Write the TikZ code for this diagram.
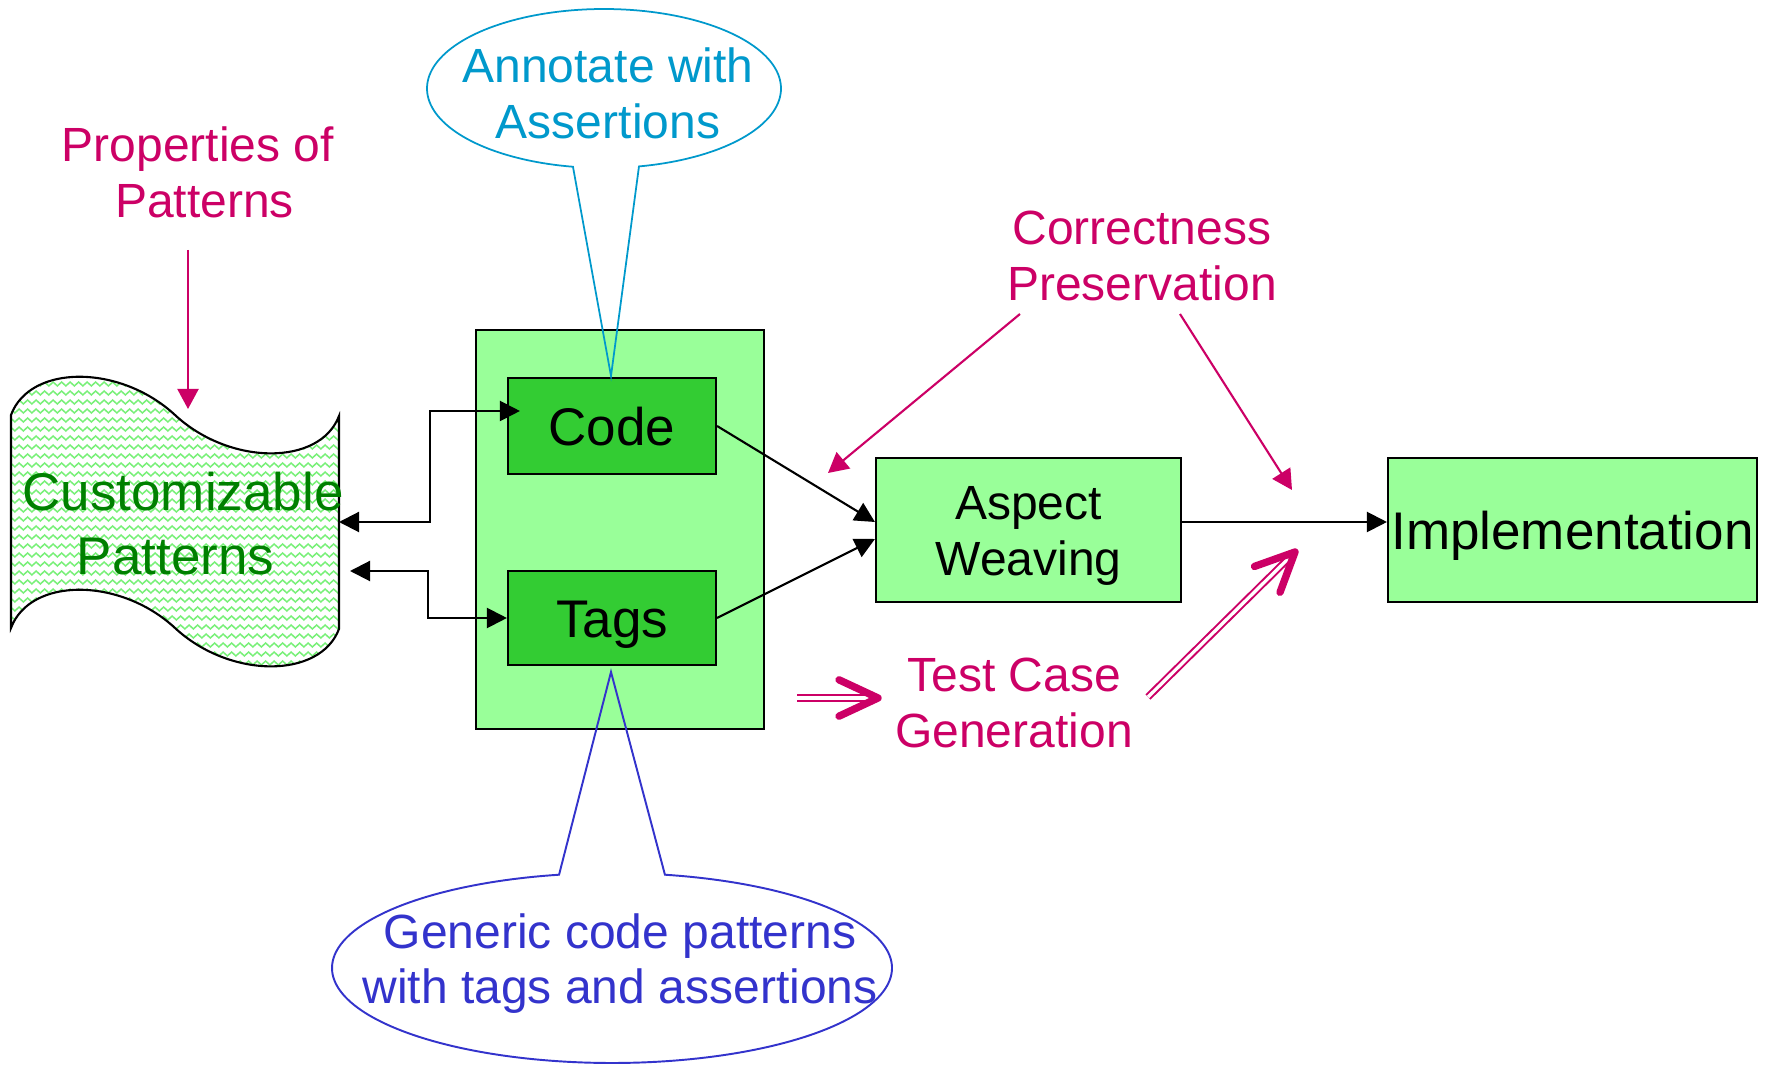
\documentclass[tikz,border=0pt]{standalone}
\usepackage{fontspec}
\setmainfont{Liberation Sans}
\usetikzlibrary{arrows.meta,calc,decorations.pathmorphing}

\definecolor{lgreen}{RGB}{153,255,153}
\definecolor{mgreen}{RGB}{51,204,51}
\definecolor{dgreen}{RGB}{0,128,0}
\definecolor{mag}{RGB}{204,0,102}
\definecolor{cyanblue}{RGB}{0,153,204}
\definecolor{royal}{RGB}{51,51,204}
\definecolor{zig}{RGB}{120,240,120}

\newcommand\FontBig{\fontsize{15.08pt}{18.21pt}\selectfont}
\newcommand\FontMid{\fontsize{13.66pt}{15.93pt}\selectfont}
\newcommand\twolines[2]{\begin{tabular}[t]{@{}c@{}}#1\\#2\end{tabular}}
% open double-shafted arrow: double line plus a thick chevron head
\newcommand\dblarrow[2]{%
  \draw[dblshaft] (#1) -- ($(#2)!1mm!(#1)$);
  \draw[chevron] ($(#2)!4.3mm!25:(#1)$) -- (#2) -- ($(#2)!4.3mm!-25:(#1)$);}

\begin{document}
\begin{tikzpicture}[x=0.1mm, y=-0.1mm,
  box/.style={draw=black, line width=0.6pt, inner sep=0pt, text height=4mm, text depth=0mm},
  conn/.style={draw=black, line width=0.6pt},
  blk/.style={-{Triangle[length=2mm,width=2mm]}},
  blkboth/.style={{Triangle[length=2mm,width=2mm]}-{Triangle[length=2mm,width=2mm]}},
  magarrow/.style={draw=mag, line width=0.6pt, -{Triangle[length=2mm,width=2.1mm]}},
  dblshaft/.style={draw=mag, line width=0.57pt, double=white, double distance=0.94pt},
  chevron/.style={draw=mag, line width=2.1pt, line cap=round, line join=round},
  txtmid/.style={font=\FontMid, inner sep=0pt, anchor=base},
  txtbig/.style={font=\FontBig, inner sep=0pt, anchor=base},
  zigline/.style={draw=zig, line width=0.42pt, decorate,
    decoration={zigzag, segment length=0.85mm, amplitude=0.2mm}}
]
\fill[white] (0,0) rectangle (1765,1065);
\useasboundingbox (0,0) rectangle (1765,1065);

% central pattern box with its two parts
\node[box, fill=lgreen, minimum width=28.8mm, minimum height=39.9mm] (group) at (620,529.5) {};
\node[box, fill=mgreen, minimum width=20.8mm, minimum height=9.6mm, font=\FontBig] (code) at (612,426) {Code};
\node[box, fill=mgreen, minimum width=20.8mm, minimum height=9.4mm, font=\FontBig] (tags) at (612,618) {Tags};

% weaving and result
\node[box, fill=lgreen, minimum width=30.5mm, minimum height=14.4mm, font=\FontMid,
      text height=3.6mm, text depth=5.6mm] (aspect) at (1028.5,530) {\twolines{Aspect}{Weaving}};
\node[box, fill=lgreen, minimum width=36.9mm, minimum height=14.4mm, font=\FontBig] (impl) at (1572.5,530) {Implementation};

% wavy "tape" shape holding the customizable patterns
\draw[black, line width=0.6pt, fill=white,
      path picture={\foreach \yy in {366,375,...,680} \draw[zigline] (0,\yy) -- (350,\yy);}]
  (11,415) .. controls (30,364) and (120,364) .. (175,415)
           .. controls (230,466) and (320,466) .. (339,416)
  -- (339,629) .. controls (320,679) and (230,679) .. (175,628)
           .. controls (120,577) and (30,577) .. (11,628) -- cycle;
\node[txtbig, text=dgreen] (cust) at (183,511) {\twolines{Customizable}{Patterns\kern4.19pt}};

\coordinate (custU) at (339,522);
\coordinate (custL) at (350,571);
\coordinate (custTop) at (188,409);

% connectors
\draw[conn, blkboth] (custU) -- ++(91,0) |- ($(code.west)+(13,-15)$);
\draw[conn, blkboth] (custL) -- ++(78,0) |- (tags.west);
\draw[conn, blk] (code.east) -- ($(aspect.west)+(0,-8)$);
\draw[conn, blk] (tags.east) -- ($(aspect.west)+(0,9)$);
\draw[conn, blk] ($(aspect.east)+(0,-8)$) -- ($(impl.west)+(0,-8)$);

% annotations
\node[txtmid, text=mag] (props) at (204.5,162) {\twolines{Properties of\kern3.79pt}{Patterns}};
\coordinate (propsOut) at (188,250);
\draw[magarrow] (propsOut) -- (custTop);

\node[txtmid, text=mag] (correct) at (1142,245) {\twolines{Correctness}{Preservation}};
\coordinate (corrA) at (1020,314);
\coordinate (corrAtip) at (828,473);
\coordinate (corrB) at (1180,314);
\coordinate (corrBtip) at (1292,490);
\draw[magarrow] (corrA) -- (corrAtip);
\draw[magarrow] (corrB) -- (corrBtip);

\node[txtmid, text=mag] (testgen) at (1014,692) {\twolines{Test Case}{Generation}};
\coordinate (tgA) at (797,698);
\coordinate (tgAtip) at (878,698);
\coordinate (tgB) at (1148,697);
\coordinate (tgBtip) at (1295,552);
\dblarrow{tgA}{tgAtip}
\dblarrow{tgB}{tgBtip}

% callout balloons
\coordinate (annTip) at (611,376);
\draw[cyanblue, line width=0.5pt]
  plot[domain=100.1:438.6, samples=160, variable=\t] ({604+177*cos(\t)},{88.5+79.5*sin(\t)})
  -- (annTip) -- cycle;
\node[txtmid, text=cyanblue] (annot) at (608,83) {\twolines{Annotate with}{Assertions}};

\coordinate (genTip) at (611,672);
\draw[royal, line width=0.55pt]
  plot[domain=280.9:619.1, samples=200, variable=\t] ({612+280*cos(\t)},{968+95*sin(\t)})
  -- (genTip) -- cycle;
\node[txtmid, text=royal] (generic) at (620,948) {\twolines{Generic code patterns}{with tags and assertions}};
\end{tikzpicture}
\end{document}
